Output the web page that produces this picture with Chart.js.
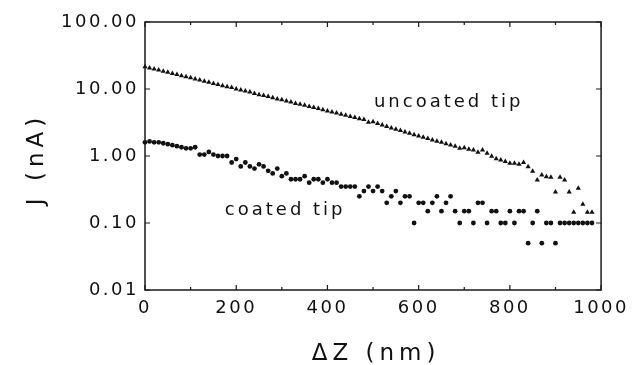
<!DOCTYPE html>
<html>
<head>
<meta charset="utf-8">
<script src="https://cdn.jsdelivr.net/npm/chart.js@4.4.0/dist/chart.umd.min.js"></script>
<style>
  body { margin: 0; background: #ffffff; }
  #wrap { width: 632px; height: 365px; }
</style>
</head>
<body>
<div id="wrap"><canvas id="tunnelChart" width="632" height="365"></canvas></div>
<script>
// tip-sample distance (nm), one reading every 10 nm
const dz = [
  0, 10, 20, 30, 40, 50, 60, 70, 80, 90,
  100, 110, 120, 130, 140, 150, 160, 170, 180, 190,
  200, 210, 220, 230, 240, 250, 260, 270, 280, 290,
  300, 310, 320, 330, 340, 350, 360, 370, 380, 390,
  400, 410, 420, 430, 440, 450, 460, 470, 480, 490,
  500, 510, 520, 530, 540, 550, 560, 570, 580, 590,
  600, 610, 620, 630, 640, 650, 660, 670, 680, 690,
  700, 710, 720, 730, 740, 750, 760, 770, 780, 790,
  800, 810, 820, 830, 840, 850, 860, 870, 880, 890,
  900, 910, 920, 930, 940, 950, 960, 970, 980
];

// current J (nA), uncoated tip (triangles)
const uncoated = [
  21.5, 20.6, 19.9, 19.2, 18.4, 17.8, 17.0, 16.5, 15.8, 15.2,
  14.7, 14.1, 13.6, 13.1, 12.6, 12.1, 11.7, 11.2, 10.8, 10.5,
  10.0, 9.7, 9.3, 9.0, 8.6, 8.2, 8.0, 7.7, 7.4, 7.1,
  6.9, 6.6, 6.4, 6.1, 5.9, 5.7, 5.5, 5.3, 5.1, 4.9,
  4.7, 4.55, 4.4, 4.2, 4.05, 3.9, 3.75, 3.6, 3.5, 3.2,
  3.25, 3.05, 2.9, 2.75, 2.62, 2.5, 2.4, 2.28, 2.18, 2.08,
  1.98, 1.9, 1.82, 1.74, 1.66, 1.6, 1.52, 1.46, 1.4, 1.3,
  1.33, 1.26, 1.23, 1.14, 1.23, 1.1, 0.99, 0.91, 0.87, 0.83,
  0.78, 0.78, 0.75, 0.8, 0.69, 0.59, 0.44, 0.52, 0.49, 0.48,
  0.29, 0.48, 0.44, 0.29, 0.145, 0.33, 0.19, 0.145, 0.145
];

// current J (nA), coated tip (dots) - readings come in 0.05 nA steps
const coated = [
  1.6, 1.65, 1.6, 1.6, 1.55, 1.5, 1.45, 1.4, 1.35, 1.3,
  1.3, 1.35, 1.05, 1.05, 1.15, 1.05, 1.0, 1.0, 1.0, 0.8,
  0.9, 0.7, 0.8, 0.7, 0.65, 0.75, 0.7, 0.6, 0.55, 0.65,
  0.5, 0.55, 0.45, 0.45, 0.45, 0.5, 0.4, 0.45, 0.45, 0.4,
  0.45, 0.4, 0.4, 0.35, 0.35, 0.35, 0.35, 0.25, 0.3, 0.35,
  0.3, 0.35, 0.3, 0.2, 0.25, 0.3, 0.2, 0.25, 0.25, 0.1,
  0.2, 0.2, 0.15, 0.2, 0.25, 0.15, 0.2, 0.25, 0.15, 0.1,
  0.15, 0.15, 0.1, 0.2, 0.2, 0.1, 0.15, 0.15, 0.1, 0.1,
  0.15, 0.1, 0.15, 0.15, 0.05, 0.1, 0.15, 0.05, 0.1, 0.1,
  0.05, 0.1, 0.1, 0.1, 0.1, 0.1, 0.1, 0.1, 0.1
];

// axis ticks
const xTicks = [0, 200, 400, 600, 800, 1000];
const xMinorTicks = [100, 300, 500, 700, 900];
const yTicks = [0.01, 0.1, 1, 10, 100];

const FONT = '"DejaVu Sans", sans-serif';
const INK = '#111111';

// frame with inward ticks on all four sides, axis titles and curve labels
const framePlugin = {
  id: 'framePlugin',
  beforeDraw(chart) {
    const ctx = chart.ctx;
    ctx.save();
    ctx.fillStyle = '#ffffff';
    ctx.fillRect(0, 0, chart.width, chart.height);
    ctx.restore();
    // wide tracking for the tick labels
    ctx.letterSpacing = '2.5px';
  },
  afterDraw(chart) {
    const ctx = chart.ctx;
    const a = chart.chartArea;
    const xs = chart.scales.x;
    const ys = chart.scales.y;
    ctx.save();
    ctx.strokeStyle = '#1a1a1a';
    ctx.lineWidth = 1.5;
    ctx.strokeRect(a.left, a.top, a.right - a.left, a.bottom - a.top);

    ctx.lineWidth = 1.2;
    ctx.beginPath();
    xTicks.forEach(v => {
      const px = xs.getPixelForValue(v);
      ctx.moveTo(px, a.bottom); ctx.lineTo(px, a.bottom - 5);
      ctx.moveTo(px, a.top); ctx.lineTo(px, a.top + 5);
    });
    xMinorTicks.forEach(v => {
      const px = xs.getPixelForValue(v);
      ctx.moveTo(px, a.bottom); ctx.lineTo(px, a.bottom - 3);
      ctx.moveTo(px, a.top); ctx.lineTo(px, a.top + 3);
    });
    yTicks.forEach(v => {
      const py = ys.getPixelForValue(v);
      ctx.moveTo(a.left, py); ctx.lineTo(a.left + 5, py);
      ctx.moveTo(a.right, py); ctx.lineTo(a.right - 5, py);
    });
    ctx.stroke();

    ctx.fillStyle = INK;
    // x title
    ctx.letterSpacing = '5px';
    ctx.font = '23px ' + FONT;
    ctx.textAlign = 'center';
    ctx.textBaseline = 'alphabetic';
    ctx.fillText('\u0394Z (nm)', (a.left + a.right) / 2 + 3, 360);
    // y title
    ctx.save();
    ctx.translate(43, (a.top + a.bottom) / 2 + 3);
    ctx.rotate(-Math.PI / 2);
    ctx.fillText('J (nA)', 0, 0);
    ctx.restore();

    // curve labels, anchored in data units
    ctx.letterSpacing = '3px';
    ctx.font = '18px ' + FONT;
    ctx.textAlign = 'left';
    ctx.fillText('uncoated tip', xs.getPixelForValue(502), ys.getPixelForValue(5.4));
    ctx.fillText('coated tip', xs.getPixelForValue(175), ys.getPixelForValue(0.13));
    ctx.restore();
  }
};

const ctx = document.getElementById('tunnelChart');
new Chart(ctx, {
  type: 'scatter',
  data: {
    datasets: [
      {
        label: 'uncoated tip',
        data: dz.map((x, i) => ({ x: x, y: uncoated[i] })),
        pointStyle: 'triangle',
        pointRadius: 3,
        backgroundColor: INK,
        borderWidth: 0,
        clip: false,
      },
      {
        label: 'coated tip',
        data: dz.map((x, i) => ({ x: x, y: coated[i] })),
        pointStyle: 'circle',
        pointRadius: 2.4,
        backgroundColor: INK,
        borderWidth: 0,
        clip: false,
      },
    ],
  },
  options: {
    responsive: false,
    animation: false,
    devicePixelRatio: 1,
    layout: { padding: { top: 22, right: 29, left: 0, bottom: 0 } },
    plugins: {
      legend: { display: false },
      tooltip: { enabled: false },
    },
    scales: {
      x: {
        type: 'linear',
        min: 0,
        max: 1000,
        afterBuildTicks: (scale) => { scale.ticks = xTicks.map(v => ({ value: v })); },
        afterFit: (scale) => { scale.height = 75; },
        grid: { display: false, drawTicks: false },
        border: { display: false },
        ticks: {
          padding: 8,
          color: INK,
          font: { family: FONT, size: 18 },
          maxRotation: 0,
          callback: (v) => String(v),
        },
      },
      y: {
        type: 'logarithmic',
        min: 0.01,
        max: 100,
        afterBuildTicks: (scale) => { scale.ticks = yTicks.map(v => ({ value: v })); },
        afterFit: (scale) => { scale.width = 145; },
        grid: { display: false, drawTicks: false },
        border: { display: false },
        ticks: {
          padding: 6,
          color: INK,
          font: { family: FONT, size: 18 },
          callback: (v) => Number(v).toFixed(2),
        },
      },
    },
  },
  plugins: [framePlugin],
});
</script>
</body>
</html>
